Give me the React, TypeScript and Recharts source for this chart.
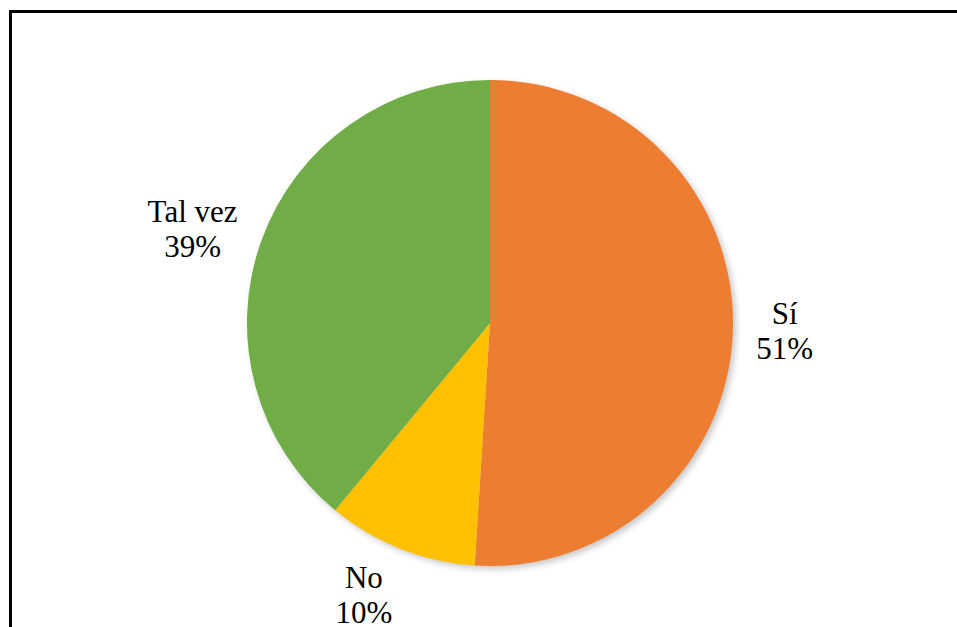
import { Cell, Pie, PieChart } from "recharts";

const categories = ["Sí", "No", "Tal vez"];
const values = [51, 10, 39];
const COLORS = ["#ED7D31", "#FFC000", "#70AD47"];

const data = categories.map((name, i) => ({ name, value: values[i] }));

const RAD = Math.PI / 180;
const FONT = 31;
const SERIF = '"Liberation Serif", "Times New Roman", "DejaVu Serif", serif';

function renderLabel(props: any) {
	const { cx, cy, midAngle, outerRadius, name, percent } = props;
	const pct = `${Math.round(percent * 100)}%`;
	const dx = Math.cos(-midAngle * RAD);
	const dy = Math.sin(-midAngle * RAD);
	// rough half width of the label block, so it sits clear of the pie
	const halfW = 14 + Math.max(name.length, pct.length) * 4.6;
	const gap = outerRadius + 24;
	const x = cx + dx * gap + Math.sign(dx) * halfW;
	const y = cy + dy * gap + dy * Math.abs(dy) * 27;
	return (
		<text
			x={x}
			y={y}
			textAnchor="middle"
			fill="#000"
			fontFamily={SERIF}
			fontSize={FONT}
			style={{ fontFamily: SERIF, fontSize: FONT }}
		>
			<tspan x={x} y={y - 7} fontFamily={SERIF}>
				{name}
			</tspan>
			<tspan x={x} y={y + 28} fontFamily={SERIF}>
				{pct}
			</tspan>
		</text>
	);
}

export default function App() {
	return (
		<div
			style={{
				position: "fixed",
				left: 0,
				top: 0,
				width: 957,
				height: 627,
				overflow: "hidden",
				background: "#fff",
				fontFamily: SERIF,
			}}
		>
			<div
				style={{
					position: "absolute",
					left: 9,
					top: 10,
					width: 1000,
					height: 700,
					border: "3px solid #000",
				}}
			/>
			<div style={{ position: "absolute", left: 0, top: 0 }}>
				<PieChart
					width={957}
					height={627}
					margin={{ top: 0, right: 0, bottom: 0, left: 0 }}
					style={{ fontFamily: SERIF }}
				>
					<Pie
						data={data}
						dataKey="value"
						cx={493}
						cy={326}
						outerRadius={243}
						startAngle={90}
						endAngle={-270}
						stroke="none"
						isAnimationActive={false}
						legendType="none"
					>
						{data.map((entry, index) => (
							<Cell
								key={`shadow-${index}`}
								fill="rgba(0,0,0,0.22)"
								style={{ filter: "blur(3px)" }}
							/>
						))}
					</Pie>
					<Pie
						data={data}
						dataKey="value"
						cx={490}
						cy={323}
						outerRadius={243}
						startAngle={90}
						endAngle={-270}
						stroke="none"
						isAnimationActive={false}
						label={renderLabel}
						labelLine={false}
					>
						{data.map((entry, index) => (
							<Cell
								key={`cell-${index}`}
								fill={COLORS[index % COLORS.length]}
								style={{ outline: "none" }}
							/>
						))}
					</Pie>
				</PieChart>
			</div>
		</div>
	);
}
